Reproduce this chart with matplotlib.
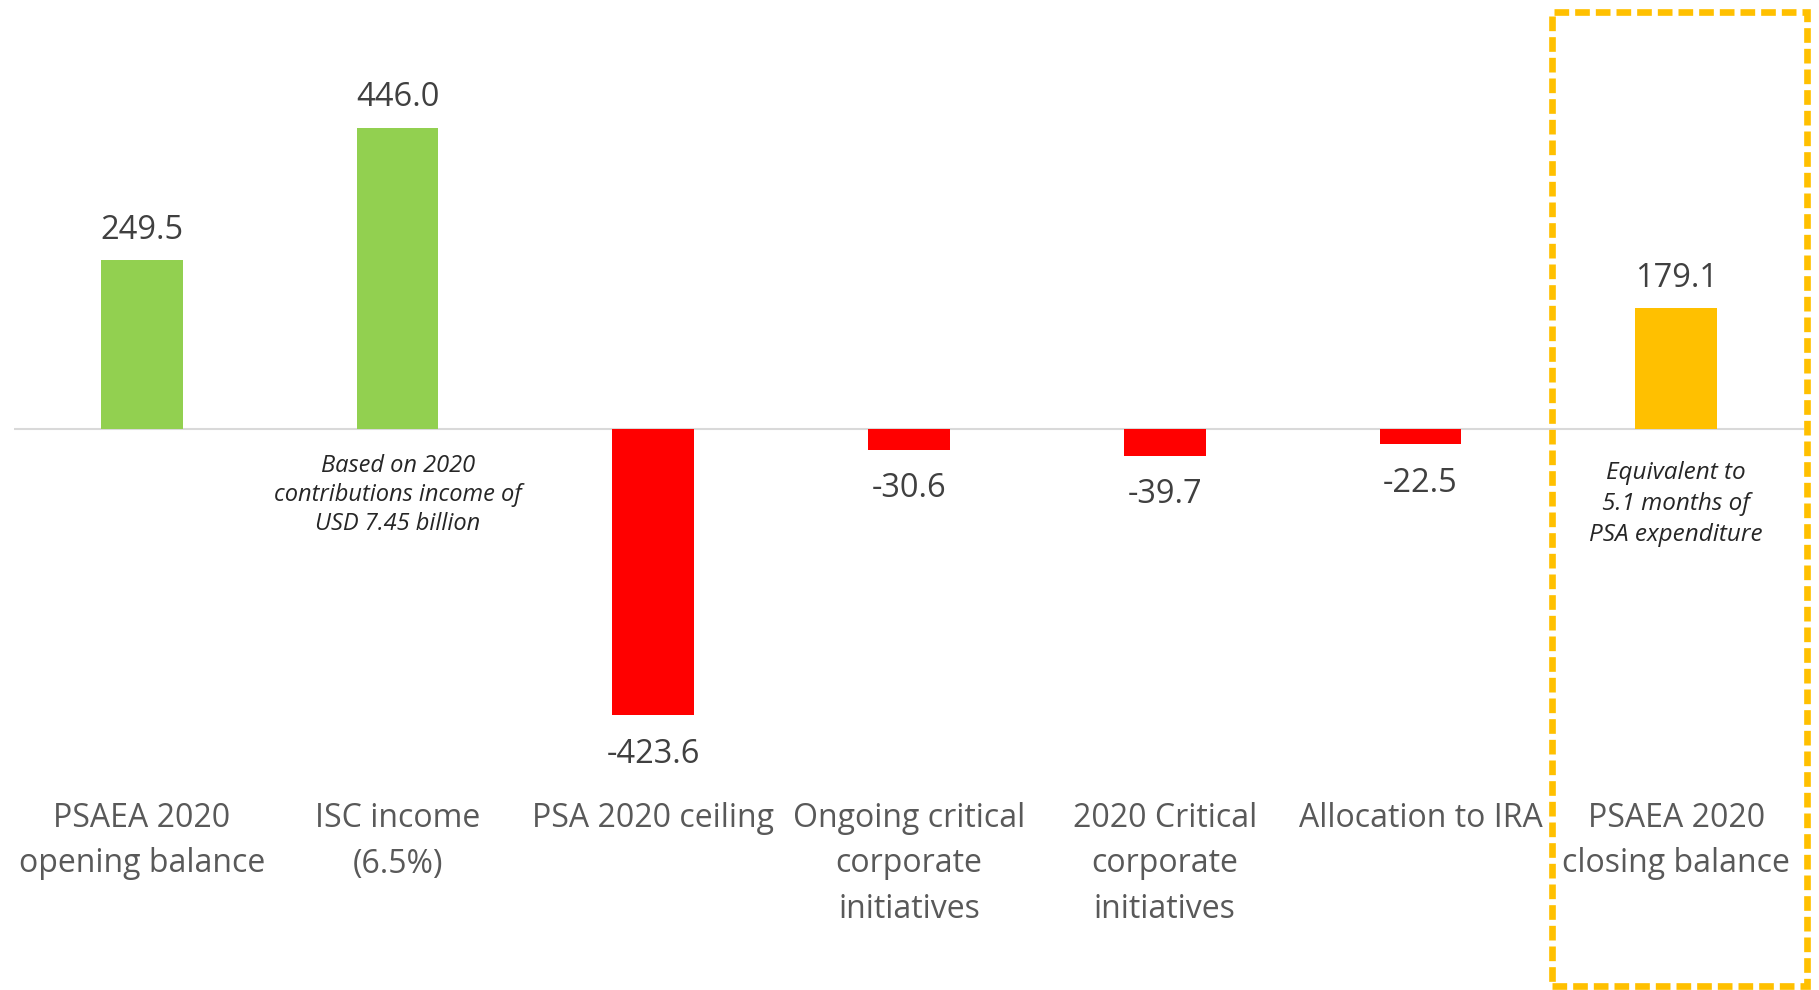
import matplotlib.pyplot as plt
from matplotlib.patches import Rectangle

# chart data
categories = ['PSAEA 2020\nopening balance', 'ISC income\n(6.5%)', 'PSA 2020 ceiling',
              'Ongoing critical\ncorporate\ninitiatives', '2020 Critical\ncorporate\ninitiatives',
              'Allocation to IRA', 'PSAEA 2020\nclosing balance']
values = [249.5, 446.0, -423.6, -30.6, -39.7, -22.5, 179.1]
notes = {1: 'Based on 2020\ncontributions income of\nUSD 7.45 billion',
         6: 'Equivalent to\n5.1 months of\nPSA expenditure'}

GREEN = '#92D050'
RED = '#FF0000'
GOLD = '#FFC000'

def bar_color(i, v):
    if i == len(values) - 1:
        return GOLD
    return GREEN if v > 0 else RED

plt.rcParams['font.family'] = ['Open Sans', 'DejaVu Sans']

W, H = 1819, 990
fig = plt.figure(figsize=(W / 100, H / 100), dpi=100)
# axes placed in pixel terms: zero line at y=429px, 0.676 px per unit
top_px, bot_px = 30, 760
ax = fig.add_axes([14 / W, 1 - bot_px / H, (1804 - 14) / W, (bot_px - top_px) / H])
ppu = 0.676
ax.set_ylim(-(bot_px - 429) / ppu, (429 - top_px) / ppu)
ax.set_xlim(-0.5, 6.5)

x = list(range(len(values)))
ax.bar(x, values, width=0.32, color=[bar_color(i, v) for i, v in zip(x, values)], zorder=2)
ax.axhline(0, color='#D9D9D9', lw=1.5, zorder=1)

for i, v in zip(x, values):
    off = 21.5 if v > 0 else -28
    ax.annotate('%.1f' % v, (i, v), xytext=(0, off), textcoords='offset points',
                ha='center', va='center', fontsize=23.5, color='#404040')

# italic side notes (closing one is set a bit larger in the original)
note_style = {1: (-47.5, 17, 1.3), 6: (-54, 17.5, 1.4)}
for i, txt in notes.items():
    y0, fs, ls = note_style[i]
    ax.annotate(txt, (i, 0), xytext=(0, y0), textcoords='offset points',
                ha='center', va='center', fontsize=fs, style='italic',
                color='#262626', linespacing=ls)

# category labels under the chart, first line centred ~814px from the top
for i, c in enumerate(categories):
    ax.annotate(c, (i, H - 814 + 12), xycoords=('data', 'figure pixels'),
                ha='center', va='top', fontsize=23, color='#595959', linespacing=1.5)

ax.axis('off')

# dashed highlight box around the closing balance
box = Rectangle((1552 / W, 1 - 986 / H), (1807 - 1552) / W, (986 - 12) / H,
                transform=fig.transFigure, fill=False, edgecolor=GOLD, lw=4.8,
                linestyle=(0, (2.2, 0.9)), clip_on=False)
fig.patches.append(box)

fig.savefig('out.png', dpi=100)
